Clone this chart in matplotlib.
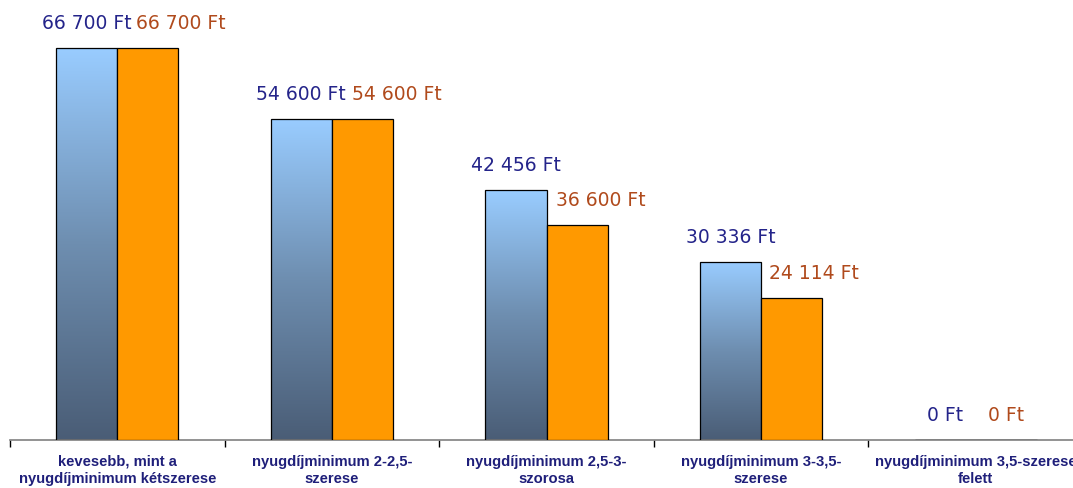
import numpy as np
import matplotlib
matplotlib.use('Agg')
import matplotlib.pyplot as plt
from matplotlib.colors import LinearSegmentedColormap

# Data
categories = [
  'kevesebb, mint a\nnyugdíjminimum kétszerese',
  'nyugdíjminimum 2-2,5-\nszerese',
  'nyugdíjminimum 2,5-3-\nszorosa',
  'nyugdíjminimum 3-3,5-\nszerese',
  'nyugdíjminimum 3,5-szerese\nfelett',
]
series_blue = [66700, 54600, 42456, 30336, 0]
series_orange = [66700, 54600, 36600, 24114, 0]

# Style
blue_label = '#24248A'
orange_label = '#B04A1C'
cat_color = '#1F1F7A'
orange_fill = '#FF9900'
orange_nudge = [33, 34, 24, 22, 0]  # label offsets (px) to avoid overlap
grad = LinearSegmentedColormap.from_list('g', ['#4A5D76', '#6E8EB0', '#99CCFF'])

W, H = 1073, 488
fig = plt.figure(figsize=(W / 100, H / 100), dpi=100)
ax = fig.add_axes([10 / W, 48 / H, 1073 / W, 440 / H])

x = np.arange(len(categories))
bw = 0.285
ymax = 74870

bars_b = ax.bar(x - bw / 2, series_blue, bw, facecolor='none',
                edgecolor='black', linewidth=0.9, zorder=3)
bars_o = ax.bar(x + bw / 2, series_orange, bw, facecolor=orange_fill,
                edgecolor='black', linewidth=0.9, zorder=3)

# gradient fill for blue bars
g = np.linspace(0, 1, 256).reshape(-1, 1)
for b in bars_b:
  h = b.get_height()
  if h <= 0:
    continue
  x0 = b.get_x()
  im = ax.imshow(g, cmap=grad, origin='lower', aspect='auto',
                 extent=[x0, x0 + b.get_width(), 0, h], zorder=2)
  im.set_clip_path(b)

ax.set_xlim(-0.5, len(categories) - 0.5)
ax.set_ylim(0, ymax)

def fmt(v):
  return f'{v:,}'.replace(',', ' ') + ' Ft'

for i, (vb, vo) in enumerate(zip(series_blue, series_orange)):
  ax.annotate(fmt(vb), (x[i] - bw / 2, vb), xytext=(0, 19), textcoords='offset pixels',
              ha='center', va='baseline', color=blue_label, fontsize=13.5)
  ax.annotate(fmt(vo), (x[i] + bw / 2, vo), xytext=(orange_nudge[i], 19),
              textcoords='offset pixels', ha='center', va='baseline',
              color=orange_label, fontsize=13.5)

for s in ['top', 'right', 'left']:
  ax.spines[s].set_visible(False)
ax.spines['bottom'].set_color('#808080')
ax.spines['bottom'].set_linewidth(1.2)
ax.set_yticks([])

ax.set_xticks(np.arange(len(categories) + 1) - 0.5)
ax.set_xticklabels([])
ax.tick_params(axis='x', length=5, width=1, color='black', direction='out')

for i, c in enumerate(categories):
  ax.text(x[i], -0.033 * ymax, c, ha='center', va='top',
          fontsize=10.6, fontweight='bold', color=cat_color,
          family='Liberation Sans', linespacing=1.3, clip_on=False)

fig.savefig('out.png', dpi=100)
